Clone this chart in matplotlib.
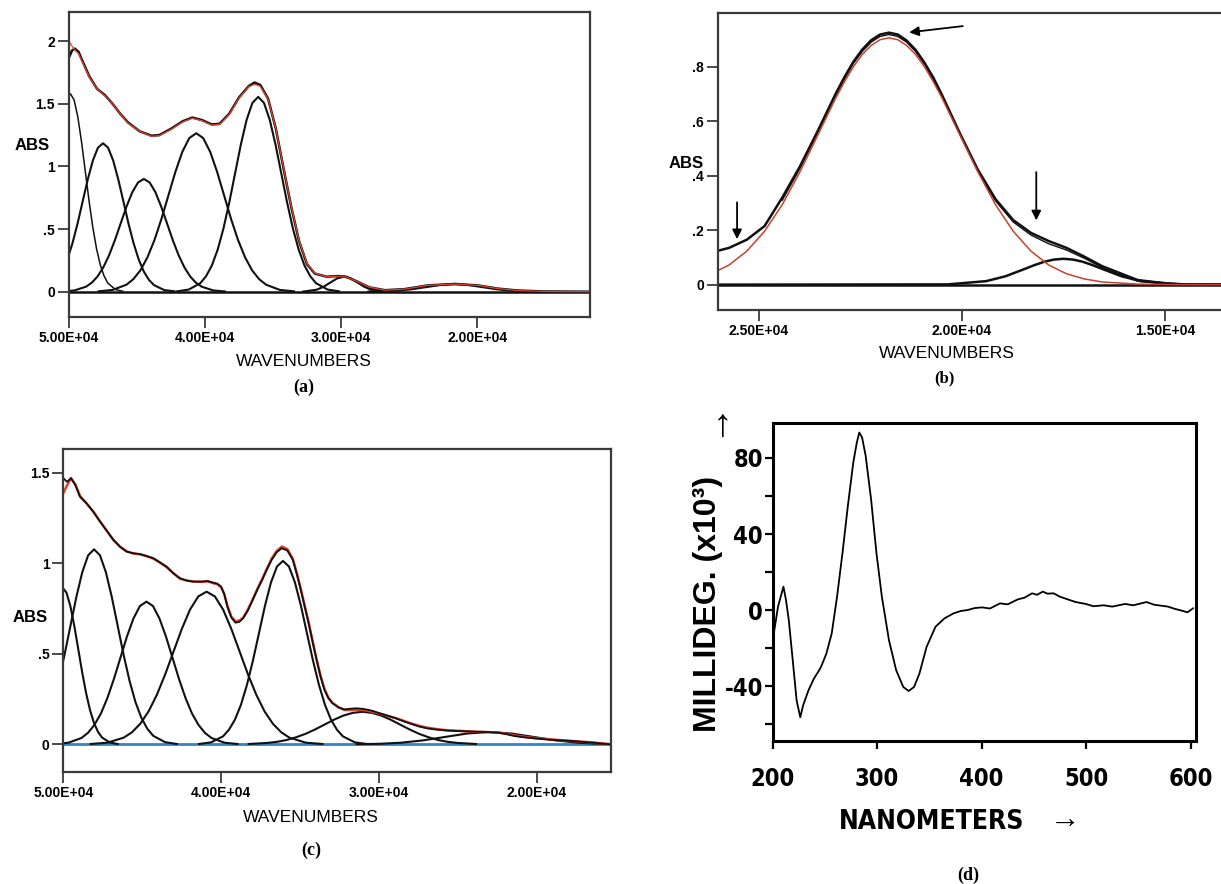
import matplotlib
matplotlib.use("Agg")
import matplotlib.pyplot as plt
from matplotlib import font_manager as fm

# -- fonts
names = set(f.name for f in fm.fontManager.ttflist)
SANS = "Liberation Sans" if "Liberation Sans" in names else "DejaVu Sans"
SERIF = "Liberation Serif" if "Liberation Serif" in names else "DejaVu Serif"
plt.rcParams["font.family"] = [SANS, "DejaVu Sans"]
plt.rcParams["axes.unicode_minus"] = False

# a narrow bold face for panel (d), if one is installed
NARROW = None
for f in fm.fontManager.ttflist:
    if f.name == "Liberation Sans Narrow" and f.weight in ("bold", 700):
        NARROW = f.fname
if NARROW is None:
    for f in fm.fontManager.ttflist:
        if "DejaVuSansCondensed-Bold." in f.fname:
            NARROW = f.fname

# ---------------------------------------------------------------- panel (a)
a_xticks = [50000, 40000, 30000, 20000]
a_xticklabels = ["5.00E+04", "4.00E+04", "3.00E+04", "2.00E+04"]
a_yticks = [0, 0.5, 1, 1.5, 2]
a_yticklabels = ["0", ".5", "1", "1.5", "2"]

a_env_x = [50000, 49780, 49571, 49300, 49086, 48514, 47943, 47371, 46800, 46229,
           45657, 44800, 43943, 43371, 42514, 41657, 40943, 40229, 39514, 38943,
           38229, 37514, 36800, 36371, 35943, 35371, 34800, 34229, 33657, 33086,
           32514, 31943, 31086, 30229, 29657, 28800, 27943, 26800, 25371, 23657,
           21657, 19943, 18514, 17086, 15086, 11657]
a_env_y = [1.87, 1.925, 1.94, 1.915, 1.86, 1.72, 1.62, 1.57, 1.50, 1.42,
           1.35, 1.28, 1.245, 1.25, 1.30, 1.36, 1.39, 1.37, 1.335, 1.34,
           1.42, 1.55, 1.64, 1.67, 1.65, 1.54, 1.30, 0.98, 0.67, 0.40,
           0.22, 0.145, 0.12, 0.125, 0.12, 0.08, 0.035, 0.012, 0.02, 0.05,
           0.062, 0.05, 0.025, 0.01, 0.002, 0.0]
a_fit_y = [2.0, 1.96, 1.93, 1.9, 1.85, 1.715, 1.62, 1.565, 1.50, 1.42,
           1.345, 1.28, 1.24, 1.245, 1.295, 1.355, 1.385, 1.365, 1.33, 1.335,
           1.415, 1.545, 1.635, 1.655, 1.64, 1.535, 1.30, 0.985, 0.675, 0.405,
           0.225, 0.148, 0.12, 0.124, 0.118, 0.08, 0.036, 0.012, 0.02, 0.05,
           0.061, 0.05, 0.025, 0.01, 0.002, 0.0]

# fitted bands (a)
a_b1_x = [46050, 46600, 47150, 47425, 47700, 47975, 48250, 48525, 48800, 49075,
          49350, 49625, 49900, 50175]
a_b1_y = [0.003, 0.018, 0.069, 0.126, 0.214, 0.342, 0.513, 0.723, 0.958, 1.193,
          1.394, 1.531, 1.58, 1.531]
a_b2_x = [42250, 43000, 43750, 44125, 44500, 44875, 45250, 45625, 46000, 46375,
          46750, 47125, 47500, 47875, 48250, 48625, 49000, 49375, 49750, 50125]
a_b2_y = [0.003, 0.013, 0.052, 0.094, 0.160, 0.256, 0.385, 0.542, 0.719, 0.894,
          1.046, 1.149, 1.185, 1.149, 1.046, 0.894, 0.719, 0.542, 0.385, 0.256]
a_b3_x = [38550, 39400, 40250, 40675, 41100, 41525, 41950, 42375, 42800, 43225,
          43650, 44075, 44500, 44925, 45350, 45775, 46200, 46625, 47050, 47475,
          47900, 48325, 48750, 49600, 50450]
a_b3_y = [0.002, 0.010, 0.040, 0.072, 0.122, 0.195, 0.292, 0.412, 0.546, 0.679,
          0.794, 0.872, 0.90, 0.872, 0.794, 0.679, 0.546, 0.412, 0.292, 0.195,
          0.122, 0.072, 0.040, 0.010, 0.002]
a_b4_x = [33475, 34500, 35525, 36038, 36550, 37063, 37575, 38088, 38600, 39113,
          39625, 40138, 40650, 41163, 41675, 42188, 42700, 43213, 43725, 44238,
          44750, 45263, 45775, 46800, 47825]
a_b4_y = [0.003, 0.014, 0.056, 0.101, 0.171, 0.274, 0.411, 0.579, 0.767, 0.955,
          1.116, 1.226, 1.265, 1.226, 1.116, 0.955, 0.767, 0.579, 0.411, 0.274,
          0.171, 0.101, 0.056, 0.014, 0.003]
a_b5_x = [30150, 31000, 31850, 32275, 32700, 33125, 33550, 33975, 34400, 34825,
          35250, 35675, 36100, 36525, 36950, 37375, 37800, 38225, 38650, 39075,
          39500, 39925, 40350, 41200, 42050]
a_b5_y = [0.003, 0.017, 0.068, 0.124, 0.210, 0.336, 0.505, 0.712, 0.943, 1.174,
          1.372, 1.507, 1.555, 1.507, 1.372, 1.174, 0.943, 0.712, 0.505, 0.336,
          0.210, 0.124, 0.068, 0.017, 0.003]
a_b6_x = [26800, 27800, 28300, 28800, 29300, 29800, 30300, 30800, 31300, 31800, 32800]
a_b6_y = [0.001, 0.016, 0.039, 0.073, 0.106, 0.12, 0.106, 0.073, 0.039, 0.016, 0.001]
a_b7_x = [15400, 17500, 18550, 19600, 20650, 21700, 22750, 23800, 24850, 25900, 28000]
a_b7_y = [0.001, 0.008, 0.019, 0.036, 0.053, 0.06, 0.053, 0.036, 0.019, 0.008, 0.001]

# ---------------------------------------------------------------- panel (b)
b_xticks = [25000, 20000, 15000]
b_xticklabels = ["2.50E+04", "2.00E+04", "1.50E+04"]
b_yticks = [0, 0.2, 0.4, 0.6, 0.8]
b_yticklabels = ["0", ".2", ".4", ".6", ".8"]

b_red_x = [13000, 14000, 14800, 15675, 16550, 16988, 17425, 17863, 18300, 18738,
           19175, 19613, 20050, 20488, 20706, 20925, 21144, 21363, 21581, 21800,
           22019, 22238, 22456, 22675, 22894, 23113, 23550, 23988, 24425, 24863,
           25300, 25738, 26175]
b_red_y = [0.0, 0.0, 0.0003, 0.002, 0.010, 0.021, 0.040, 0.072, 0.123, 0.196,
           0.294, 0.415, 0.549, 0.684, 0.745, 0.800, 0.845, 0.878, 0.899, 0.906,
           0.899, 0.878, 0.845, 0.800, 0.745, 0.684, 0.549, 0.415, 0.294, 0.196,
           0.123, 0.072, 0.040]
b_env_x = [13000, 14500, 15000, 15675, 16550, 16988, 17425, 17863, 18300, 18738,
           19175, 19613, 20050, 20488, 20706, 20925, 21144, 21363, 21581, 21800,
           22019, 22238, 22456, 22675, 22894, 23113, 23550, 23988, 24425, 24863,
           25300, 25738, 26175]
b_env_y = [0.0, 0.001, 0.005, 0.017, 0.068, 0.103, 0.135, 0.160, 0.190, 0.237,
           0.314, 0.423, 0.555, 0.695, 0.760, 0.815, 0.862, 0.896, 0.918, 0.925,
           0.918, 0.897, 0.863, 0.818, 0.762, 0.70, 0.565, 0.435, 0.32, 0.215,
           0.165, 0.135, 0.118]
b_dat_x = [14500, 15000, 15675, 16550, 16988, 17425, 17863, 18300, 18738, 19175,
           19613, 20050, 20488, 20706, 20925, 21144, 21363, 21581, 21800, 22019,
           22238, 22456, 22675, 22894, 23113, 23550, 23988, 24425]
b_dat_y = [0.0, 0.003, 0.013, 0.063, 0.097, 0.127, 0.150, 0.182, 0.230, 0.308,
           0.418, 0.551, 0.690, 0.752, 0.810, 0.856, 0.890, 0.911, 0.918, 0.911,
           0.890, 0.856, 0.812, 0.755, 0.694, 0.560, 0.428, 0.31]
b_band_x = [12000, 14650, 15600, 16075, 16550, 16790, 17025, 17260, 17500, 17740,
            17975, 18210, 18450, 18925, 19400, 20350, 27000]
b_band_y = [0.0, 0.001, 0.013, 0.031, 0.058, 0.072, 0.084, 0.092, 0.095, 0.092,
            0.084, 0.072, 0.058, 0.031, 0.013, 0.001, 0.0]

# ---------------------------------------------------------------- panel (c)
c_xticks = [50000, 40000, 30000, 20000]
c_xticklabels = ["5.00E+04", "4.00E+04", "3.00E+04", "2.00E+04"]
c_yticks = [0, 0.5, 1, 1.5]
c_yticklabels = ["0", ".5", "1", "1.5"]

c_dat_x = [50000, 49766, 49512, 49230, 48942, 48520, 48099, 47674, 47250, 46831,
           46400, 45982, 45560, 45139, 44720, 44297, 43870, 43447, 43020, 42605,
           42180, 41762, 41222, 40850, 40500, 40250, 40000, 39800, 39600, 39350,
           39090, 38850, 38600, 38300, 38000, 37700, 37400, 37100, 36800, 36480,
           36156, 35800, 35454, 35200, 34952, 34700, 34450, 34200, 33949, 33700,
           33447, 33200, 32946, 32570, 32193, 31800, 31441, 31100, 30814, 30400,
           29936, 29450, 28933, 28430, 27930, 27430, 26926, 26300, 25672, 24800,
           23917, 23150, 22412, 21900, 21409, 20800, 20155, 19500, 18901, 18270,
           17646, 17000, 16392, 15850, 15300]
c_dat_y = [1.47, 1.45, 1.47, 1.43, 1.367, 1.33, 1.285, 1.23, 1.18, 1.129,
           1.09, 1.064, 1.055, 1.051, 1.04, 1.028, 1.005, 0.981, 0.945, 0.917,
           0.905, 0.898, 0.899, 0.902, 0.893, 0.888, 0.871, 0.83, 0.76, 0.70,
           0.672, 0.676, 0.696, 0.74, 0.797, 0.855, 0.908, 0.965, 1.018, 1.06,
           1.083, 1.07, 1.018, 0.94, 0.853, 0.76, 0.668, 0.565, 0.466, 0.375,
           0.30, 0.255, 0.227, 0.205, 0.193, 0.197, 0.199, 0.197, 0.193, 0.185,
           0.171, 0.158, 0.144, 0.127, 0.112, 0.098, 0.088, 0.081, 0.076, 0.073,
           0.07, 0.068, 0.064, 0.056, 0.046, 0.039, 0.033, 0.028, 0.024, 0.021,
           0.018, 0.013, 0.009, 0.004, 0.0]
c_fit_y = [1.387, 1.43, 1.47, 1.435, 1.372, 1.33, 1.285, 1.232, 1.18, 1.13,
           1.092, 1.066, 1.054, 1.049, 1.039, 1.026, 1.003, 0.978, 0.944, 0.915,
           0.904, 0.9, 0.897, 0.9, 0.89, 0.885, 0.868, 0.83, 0.765, 0.705,
           0.68, 0.683, 0.70, 0.745, 0.80, 0.858, 0.912, 0.97, 1.025, 1.068,
           1.092, 1.078, 1.025, 0.945, 0.86, 0.765, 0.672, 0.57, 0.47, 0.38,
           0.305, 0.258, 0.23, 0.205, 0.19, 0.19, 0.19, 0.19, 0.188, 0.18,
           0.17, 0.158, 0.145, 0.13, 0.115, 0.102, 0.092, 0.084, 0.078, 0.074,
           0.07, 0.068, 0.065, 0.058, 0.05, 0.042, 0.035, 0.03, 0.026, 0.022,
           0.018, 0.014, 0.01, 0.005, 0.0]

c_b1_x = [46550, 47050, 47550, 47800, 48050, 48300, 48550, 48800, 49050, 49300,
          49550, 49800, 50050]
c_b1_y = [0.002, 0.010, 0.038, 0.069, 0.117, 0.187, 0.281, 0.396, 0.525, 0.653,
          0.763, 0.838, 0.865]
c_b2_x = [42800, 43550, 44300, 44675, 45050, 45425, 45800, 46175, 46550, 46925,
          47300, 47675, 48050, 48425, 48800, 49175, 49550, 49925, 50300]
c_b2_y = [0.002, 0.012, 0.047, 0.086, 0.146, 0.233, 0.350, 0.493, 0.653, 0.813,
          0.950, 1.044, 1.077, 1.044, 0.950, 0.813, 0.653, 0.493, 0.350]
c_b3_x = [38955, 39780, 40605, 41018, 41430, 41843, 42255, 42668, 43080, 43493,
          43905, 44318, 44730, 45143, 45555, 45968, 46380, 46793, 47205, 47618,
          48030, 48443, 48855, 49680, 50505]
c_b3_y = [0.002, 0.009, 0.035, 0.063, 0.107, 0.170, 0.256, 0.361, 0.478, 0.595,
          0.695, 0.764, 0.788, 0.764, 0.695, 0.595, 0.478, 0.361, 0.256, 0.170,
          0.107, 0.063, 0.035, 0.009, 0.002]
c_b4_x = [33570, 34620, 35670, 36195, 36720, 37245, 37770, 38295, 38820, 39345,
          39870, 40395, 40920, 41445, 41970, 42495, 43020, 43545, 44070, 44595,
          45120, 45645, 46170, 47220, 48270]
c_b4_y = [0.002, 0.009, 0.037, 0.067, 0.114, 0.182, 0.274, 0.386, 0.511, 0.636,
          0.744, 0.817, 0.843, 0.817, 0.744, 0.636, 0.511, 0.386, 0.274, 0.182,
          0.114, 0.067, 0.037, 0.009, 0.002]
c_b5_x = [30760, 31520, 32280, 32660, 33040, 33420, 33800, 34180, 34560, 34940,
          35320, 35700, 36080, 36460, 36840, 37220, 37600, 37980, 38360, 38740,
          39120, 39500, 39880, 40640, 41400]
c_b5_y = [0.002, 0.011, 0.044, 0.081, 0.137, 0.219, 0.329, 0.464, 0.614, 0.765,
          0.894, 0.982, 1.013, 0.982, 0.894, 0.765, 0.614, 0.464, 0.329, 0.219,
          0.137, 0.081, 0.044, 0.011, 0.002]
c_b6_x = [23850, 25050, 25650, 26250, 26850, 27450, 28050, 28650, 29250, 29850,
          30450, 31050, 31650, 32250, 32850, 33450, 34050, 34650, 35250, 35850,
          36450, 37050, 38250]
c_b6_y = [0.002, 0.008, 0.014, 0.024, 0.039, 0.058, 0.082, 0.109, 0.136, 0.159,
          0.174, 0.18, 0.174, 0.159, 0.136, 0.109, 0.082, 0.058, 0.039, 0.024,
          0.014, 0.008, 0.002]
c_b7_x = [14600, 16000, 17400, 18800, 20200, 21600, 23000, 24400, 25800, 27200,
          28600, 30000, 31400]
c_b7_y = [0.001, 0.003, 0.009, 0.022, 0.041, 0.060, 0.068, 0.060, 0.041, 0.022,
          0.009, 0.003, 0.001]

# ---------------------------------------------------------------- panel (d)
d_xticks = [200, 300, 400, 500, 600]
d_yticks = [-40, 0, 40, 80]
d_yminor = [-60, -20, 20, 60]
d_nm = [200.0, 205.1, 210.3, 212.7, 215.4, 219.5, 222.9, 226.4, 229.1, 234.2,
        239.4, 243.0, 246.2, 251.4, 256.5, 261.6, 266.8, 271.9, 277.1, 280.5,
        282.9, 285.6, 289.0, 294.2, 299.3, 304.5, 311.3, 318.2, 325.0, 330.1,
        335.3, 340.4, 347.3, 355.8, 364.4, 372.9, 380.0, 386.6, 393.0, 400.3,
        408.0, 417.5, 425.0, 434.6, 441.0, 448.3, 453.0, 458.6, 463.0, 468.8,
        475.0, 482.5, 490.0, 499.7, 507.0, 516.8, 525.0, 537.3, 545.0, 557.9,
        565.0, 578.4, 585.0, 592.1, 597.0, 602.4]
d_mdeg = [-16.0, 1.8, 12.3, 5.3, -5.3, -28.2, -47.6, -56.4, -50.2, -42.3,
          -36.1, -33.0, -30.0, -22.9, -12.3, 7.0, 30.0, 54.6, 77.5, 88.1,
          93.4, 90.7, 81.1, 58.1, 30.0, 7.0, -15.9, -31.7, -40.5, -42.6,
          -40.5, -33.5, -19.4, -8.8, -4.4, -1.8, -0.5, 0.0, 1.0, 1.4,
          0.8, 3.5, 3.0, 5.6, 6.5, 8.8, 8.0, 9.7, 8.6, 8.8,
          7.0, 5.6, 4.2, 3.2, 2.0, 2.5, 1.8, 3.2, 2.5, 4.2,
          2.8, 1.8, 0.6, -0.4, -1.2, 0.9]

# ---------------------------------------------------------------- layout
W, H = 1221, 884
fig = plt.figure(figsize=(W / 100.0, H / 100.0), dpi=100, facecolor="w")


def px_axes(l, t, r, b):
    return fig.add_axes([l / W, 1 - b / H, (r - l) / W, (b - t) / H])


def ftext(x, y, s, **kw):
    return fig.text(x / W, 1 - y / H, s, ha="center", va="center", **kw)


def style_abs(ax, xlim, ylim, xt, xtl, yt, ytl):
    ax.set_xlim(*xlim)
    ax.set_ylim(*ylim)
    ax.set_xticks(xt)
    ax.set_xticklabels(xtl)
    ax.set_yticks(yt)
    ax.set_yticklabels(ytl)
    for s in ax.spines.values():
        s.set_linewidth(1.6)
        s.set_color("#3a3a3a")
    ax.tick_params(direction="out", length=8, width=1.3, color="#3a3a3a",
                   pad=2, labelsize=10)
    for lab in ax.get_xticklabels() + ax.get_yticklabels():
        lab.set_fontweight("bold")


RED = "#e0412c"
BLK = "#111111"

# -- (a)
ax = px_axes(69, 11.7, 590, 317)
ax.axhline(0, color=BLK, lw=1.8)
ax.plot(a_b1_x, a_b1_y, color=BLK, lw=1.1)
for bx, by in [(a_b2_x, a_b2_y), (a_b3_x, a_b3_y), (a_b4_x, a_b4_y),
               (a_b5_x, a_b5_y), (a_b6_x, a_b6_y), (a_b7_x, a_b7_y)]:
    ax.plot(bx, by, color=BLK, lw=1.5)
ax.plot(a_env_x, a_env_y, color=BLK, lw=1.8)
ax.plot(a_env_x, a_fit_y, color=RED, lw=0.9)
style_abs(ax, (50000, 11720), (-0.202, 2.235), a_xticks, a_xticklabels,
          a_yticks, a_yticklabels)
ftext(32, 146, "ABS", weight="bold", size=12)
ftext(304, 361, "WAVENUMBERS", size=12.5)
ftext(303.5, 387, "(a)", family=SERIF, weight="bold", size=13)

# -- (b)
ax = px_axes(717.7, 13.3, 1221, 310)
ax.axhline(0, color=BLK, lw=1.8)
ax.plot(b_band_x, b_band_y, color=BLK, lw=1.8)
ax.plot(b_env_x, b_env_y, color=BLK, lw=1.8)
ax.plot(b_dat_x, b_dat_y, color=BLK, lw=1.0)
ax.plot(b_red_x, b_red_y, color="#c8402e", lw=1.1)
style_abs(ax, (26017, 13620), (-0.093, 0.996), b_xticks, b_xticklabels,
          b_yticks, b_yticklabels)
ax.spines["right"].set_visible(False)
arw = dict(arrowstyle="-|>", color="k", lw=1.3, mutation_scale=14,
           shrinkA=0, shrinkB=0)
ax.annotate("", xy=(21300, 0.926), xytext=(19980, 0.949), arrowprops=arw)
ax.annotate("", xy=(25540, 0.167), xytext=(25540, 0.302), arrowprops=arw)
ax.annotate("", xy=(18170, 0.236), xytext=(18170, 0.413), arrowprops=arw)
ftext(686, 163, "ABS", weight="bold", size=12)
ftext(947, 353, "WAVENUMBERS", size=12.5)
ftext(944, 378, "(b)", family=SERIF, weight="bold", size=12)

# -- (c)
ax = px_axes(63.3, 449, 610.7, 771.7)
ax.axhline(0, color="#2e86c8", lw=2.0, zorder=1)
for bx, by in [(c_b1_x, c_b1_y), (c_b2_x, c_b2_y), (c_b3_x, c_b3_y),
               (c_b4_x, c_b4_y), (c_b5_x, c_b5_y), (c_b6_x, c_b6_y),
               (c_b7_x, c_b7_y)]:
    ax.plot(bx, by, color=BLK, lw=1.5)
ax.plot(c_dat_x, c_fit_y, color=RED, lw=1.8)
ax.plot(c_dat_x, c_dat_y, color=BLK, lw=1.3)
style_abs(ax, (50000, 15310), (-0.151, 1.631), c_xticks, c_xticklabels,
          c_yticks, c_yticklabels)
ftext(30, 617, "ABS", weight="bold", size=12)
ftext(311, 818, "WAVENUMBERS", size=12.5)
ftext(311, 850, "(c)", family=SERIF, weight="bold", size=13)

# -- (d)
if NARROW:
    dkw = dict(fontproperties=fm.FontProperties(fname=NARROW))
    tick_sz, lab_sz = 17, 19
else:
    dkw = dict(family=SANS, weight="bold")
    tick_sz, lab_sz = 18, 19

ax = px_axes(772.7, 423, 1195.6, 741)
ax.plot(d_nm, d_mdeg, color="k", lw=1.3)
ax.set_xlim(200, 604.8)
ax.set_ylim(-68.9, 98.4)
ax.set_xticks(d_xticks)
ax.set_yticks(d_yticks)
ax.set_yticks(d_yminor, minor=True)
for s in ax.spines.values():
    s.set_linewidth(2.2)
ax.tick_params(which="both", direction="out", length=6, width=1.6, pad=1)
ax.tick_params(axis="x", pad=13)
for lab in ax.get_xticklabels() + ax.get_yticklabels():
    if NARROW:
        lab.set_fontproperties(fm.FontProperties(fname=NARROW))
    else:
        lab.set_family(SANS)
        lab.set_fontweight("bold")
    lab.set_fontsize(tick_sz)
ftext(708, 604, "MILLIDEG. (x10³)", rotation=90, weight="bold", size=23)
ftext(713, 418, "→", rotation=90, size=28)
t = ftext(932, 822, "NANOMETERS", **dkw)
t.set_fontsize(lab_sz)
ftext(1065, 821, "→", size=22)
ftext(968, 875, "(d)", family=SERIF, weight="bold", size=13)

fig.savefig("out.png", dpi=100, facecolor="w")
